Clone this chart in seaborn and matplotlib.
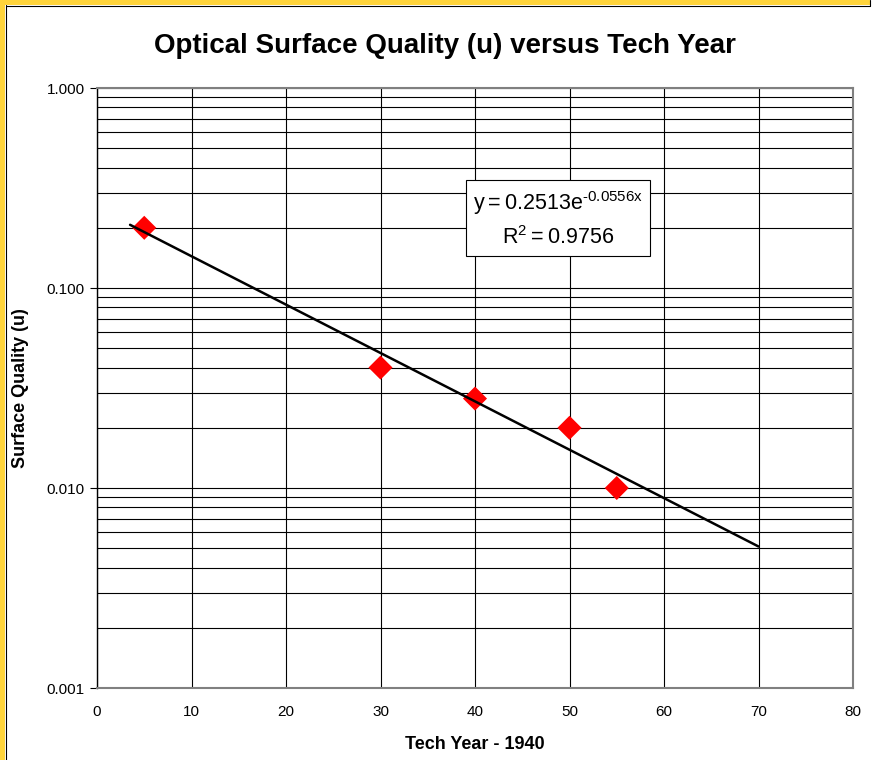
import numpy as np
import pandas as pd
import matplotlib
matplotlib.use("Agg")
import matplotlib.pyplot as plt
from matplotlib.patches import Rectangle
from matplotlib.lines import Line2D
import seaborn as sns

# Datos
tech_year = [5, 30, 40, 50, 55]
surface_quality = [0.2, 0.04, 0.028, 0.02, 0.01]

# Linea de tendencia (exponencial, recta en eje log): extremos leidos
trend_x = [3.5, 70]
trend_y = [0.207, 0.0051]

y_ticks = [0.001, 0.01, 0.1, 1.0]
y_ticklabels = ["0.001", "0.010", "0.100", "1.000"]
x_ticks = [0, 10, 20, 30, 40, 50, 60, 70, 80]

eq_text = r"$\mathregular{y = 0.2513e^{\text{-}0.0556x}}$"
r2_text = r"$\mathregular{R^2 = 0.9756}$"

sns.set_style("white")
plt.rcParams["font.family"] = ["Liberation Sans", "DejaVu Sans"]
plt.rcParams["mathtext.fontset"] = "custom"
plt.rcParams["mathtext.rm"] = "Liberation Sans"
plt.rcParams["text.color"] = "black"
plt.rcParams["axes.labelcolor"] = "black"
plt.rcParams["xtick.color"] = "black"
plt.rcParams["ytick.color"] = "black"

df = pd.DataFrame({"x": tech_year, "y": surface_quality})
trend = pd.DataFrame({"x": trend_x, "y": trend_y})

fig = plt.figure(figsize=(8.8, 7.6), dpi=100)
ax = fig.add_axes([97 / 880, 1 - 688 / 760, 756 / 880, 600 / 760])

# Marco amarillo (izquierda y arriba)
fig.patches.append(Rectangle((0, 0), 5 / 880, 1, transform=fig.transFigure,
                             facecolor="#FFD43B", edgecolor="none", zorder=0))
fig.patches.append(Rectangle((0, 1 - 5 / 760), 870 / 880, 5 / 760, transform=fig.transFigure,
                             facecolor="#FFD43B", edgecolor="none", zorder=0))
fig.lines.append(Line2D([5.5 / 880, 5.5 / 880], [0, 1 - 5 / 760], transform=fig.transFigure,
                        color="black", lw=0.8))
fig.lines.append(Line2D([5.5 / 880, 870 / 880], [1 - 5.5 / 760, 1 - 5.5 / 760], transform=fig.transFigure,
                        color="black", lw=0.8))
fig.lines.append(Line2D([870 / 880, 870 / 880], [1 - 5.5 / 760, 1], transform=fig.transFigure,
                        color="black", lw=0.8))

ax.set_yscale("log")
ax.set_xlim(0, 80)
ax.set_ylim(0.001, 1.0)

sns.scatterplot(data=df, x="x", y="y", marker="D", s=150, color="#FF0000",
                edgecolor="none", ax=ax, zorder=3)
sns.lineplot(data=trend, x="x", y="y", color="black", lw=1.8, ax=ax, zorder=4)

# Rejilla
ax.set_xticks(x_ticks)
ax.set_yticks(y_ticks)
ax.set_yticklabels(y_ticklabels)
ax.yaxis.set_minor_locator(matplotlib.ticker.LogLocator(base=10, subs=np.arange(2, 10)))
ax.yaxis.set_minor_formatter(matplotlib.ticker.NullFormatter())
ax.grid(True, which="both", axis="y", color="black", lw=0.8)
ax.grid(True, which="major", axis="x", color="black", lw=0.8)
ax.set_axisbelow(True)

ax.tick_params(axis="y", which="major", direction="out", length=5, width=0.8,
               color="black", labelsize=11, pad=4, left=True)
ax.tick_params(axis="y", which="minor", length=0)
ax.tick_params(axis="x", length=0, labelsize=11, pad=12)

for side in ["top", "right", "bottom"]:
    ax.spines[side].set_color("#808080")
    ax.spines[side].set_linewidth(1.5)
ax.spines["left"].set_color("black")
ax.spines["left"].set_linewidth(1)

ax.set_xlabel("Tech Year - 1940", fontsize=13, fontweight="bold")
ax.xaxis.set_label_coords(0.5, -(736 - 688) / 600)
ax.set_ylabel("Surface Quality (u)", fontsize=13, fontweight="bold")
ax.yaxis.set_label_coords(-(97 - 29) / 756, 0.5)
fig.suptitle("Optical Surface Quality (u) versus Tech Year", fontsize=20,
             fontweight="bold", x=445 / 880, y=1 - 46 / 760, va="center")

# Ecuacion de la tendencia
ax.text(0.61, 0.781, eq_text + "\n" + r2_text, transform=ax.transAxes,
        ha="center", va="center", fontsize=15.5, linespacing=1.5, zorder=5,
        bbox=dict(boxstyle="square,pad=0.33", facecolor="white", edgecolor="black", lw=0.8))

fig.savefig("out.png", dpi=100)
